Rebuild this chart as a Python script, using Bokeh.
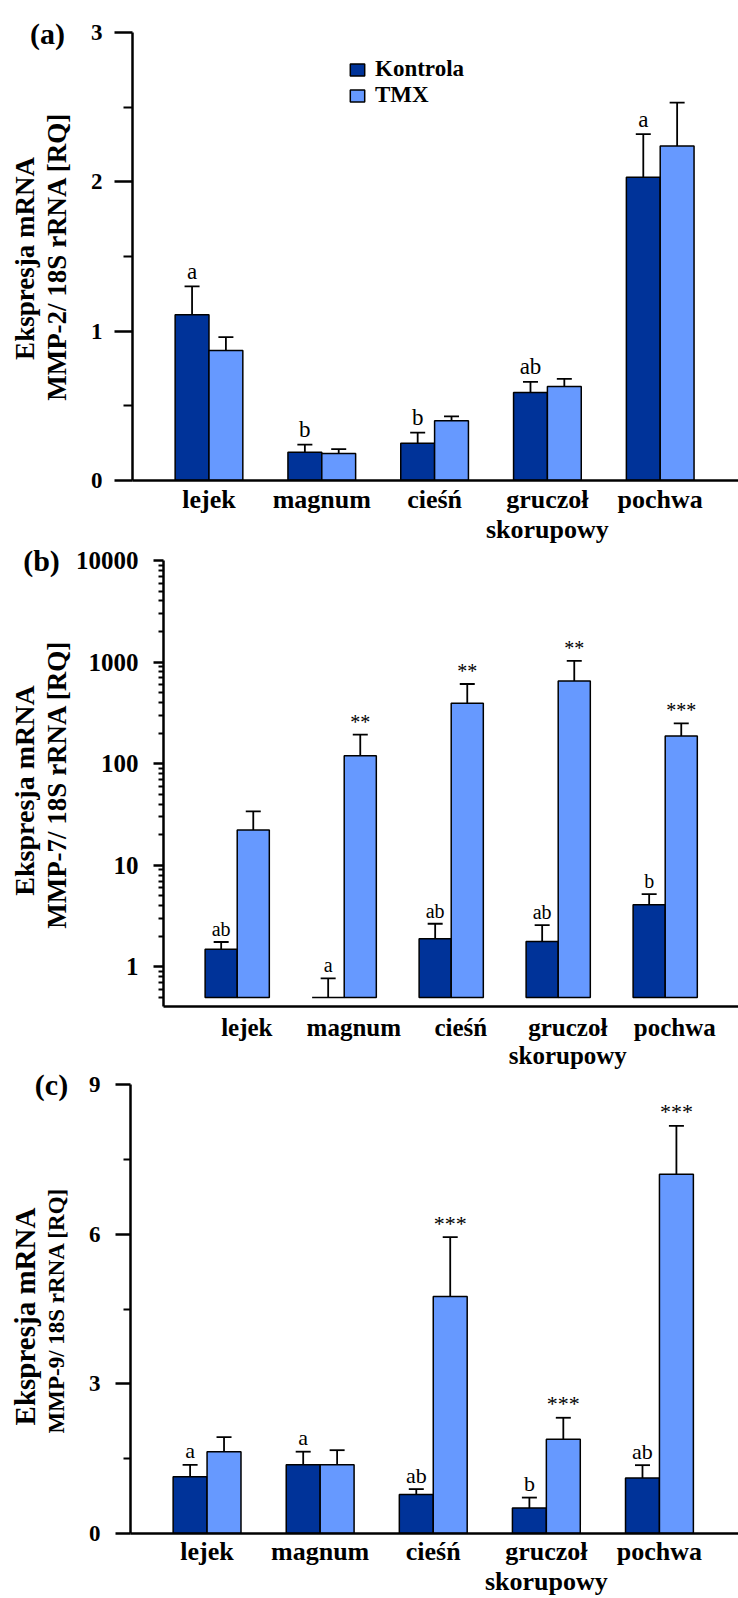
import math
from bokeh.plotting import figure
from bokeh.models import (Range1d, FixedTicker, LinearAxis, Whisker, TeeHead,
                          ColumnDataSource, Label, Legend, LegendItem, BasicTickFormatter)
from bokeh.embed import file_html
from bokeh.resources import INLINE
from bokeh.core.properties import value

# ---------------- data ----------------
categories = ["lejek", "magnum", "cieśń", "gruczoł\nskorupowy", "pochwa"]
series_names = ["Kontrola", "TMX"]
colors = ["#003399", "#6699FF"]

# (a) MMP-2
mmp2_kontrola = [1.11, 0.19, 0.25, 0.59, 2.03]
mmp2_kontrola_se = [0.19, 0.05, 0.07, 0.07, 0.29]
mmp2_tmx = [0.87, 0.18, 0.40, 0.63, 2.24]
mmp2_tmx_se = [0.09, 0.03, 0.03, 0.05, 0.29]
mmp2_kontrola_sig = ["a", "b", "b", "ab", "a"]
mmp2_tmx_sig = ["", "", "", "", ""]

# (b) MMP-7 (log scale)
mmp7_kontrola = [1.49, 0.5, 1.89, 1.78, 4.1]
mmp7_kontrola_se = [0.27, 0.27, 0.77, 0.80, 1.1]
mmp7_tmx = [22.3, 120, 394, 652, 187]
mmp7_tmx_se = [11.7, 73, 215, 378, 62]
mmp7_kontrola_sig = ["ab", "a", "ab", "ab", "b"]
mmp7_tmx_sig = ["", "**", "**", "**", "***"]

# (c) MMP-9
mmp9_kontrola = [1.14, 1.38, 0.78, 0.51, 1.11]
mmp9_kontrola_se = [0.235, 0.26, 0.11, 0.21, 0.26]
mmp9_tmx = [1.64, 1.38, 4.75, 1.89, 7.20]
mmp9_tmx_se = [0.29, 0.29, 1.19, 0.43, 0.97]
mmp9_kontrola_sig = ["a", "a", "ab", "b", "ab"]
mmp9_tmx_sig = ["", "", "***", "***", "***"]

y_title_1 = "Ekspresja mRNA"
y_title_2 = ["MMP-2/ 18S rRNA [RQ]", "MMP-7/ 18S rRNA [RQ]", "MMP-9/ 18S rRNA [RQ]"]
panel_tags = ["(a)", "(b)", "(c)"]

FONT = "Liberation Serif"
BAR_W = 0.3
W = 738
PAGE_H = 1598


def make_panel(cfg):
    n = len(categories)
    xs = [i + 1 for i in range(n)]
    log = cfg["log"]
    p = figure(width=W, height=cfg["height"], output_backend="svg", toolbar_location=None,
               x_range=Range1d(cfg["x0"], cfg["x1"]), y_range=Range1d(cfg["y0"], cfg["y1"]),
               y_axis_type="log" if log else "linear",
               x_axis_location=None,
               min_border_left=cfg["left"], min_border_right=0,
               min_border_top=cfg["top"], min_border_bottom=cfg["bottom"])
    p.outline_line_color = None
    p.xgrid.visible = False
    p.ygrid.visible = False
    p.background_fill_color = "white"
    p.border_fill_color = "white"

    base = cfg["base"]
    renderers = []
    for k, (vals, se, sig) in enumerate(cfg["series"]):
        off = -BAR_W / 2 if k == 0 else BAR_W / 2
        src = ColumnDataSource(dict(
            x=[x + off for x in xs],
            top=vals,
            bottom=[base] * n,
            up=[v + s for v, s in zip(vals, se)],
            sig=sig,
        ))
        r = p.vbar(x="x", top="top", bottom="bottom", width=BAR_W, source=src,
                   fill_color=colors[k], line_color="black", line_width=1.5)
        renderers.append(r)
        w = Whisker(base="x", lower="top", upper="up", source=src, dimension="height",
                    line_color="black", line_width=1.8,
                    upper_head=TeeHead(size=15, line_color="black", line_width=1.8),
                    lower_head=None)
        p.add_layout(w)
        p.text(x="x", y="up", text="sig", source=src, text_align="center",
               text_baseline="alphabetic", y_offset=cfg["sig_off"],
               text_font=value(FONT), text_font_size=cfg["sig_size"], text_color="black")

    # y axis
    ya = p.yaxis[0]
    ya.ticker = FixedTicker(ticks=cfg["yticks"], minor_ticks=cfg["yminor"])
    if log:
        ya.formatter = BasicTickFormatter(use_scientific=False)
    ya.axis_line_width = 2.5
    ya.major_tick_line_width = 2.5
    ya.minor_tick_line_width = 2
    ya.major_tick_out = cfg["tick_out"]
    ya.major_tick_in = 0
    ya.minor_tick_out = cfg["minor_out"]
    ya.minor_tick_in = 0
    ya.major_label_standoff = cfg["standoff"]
    ya.major_label_text_font = FONT
    ya.major_label_text_font_style = "bold"
    ya.major_label_text_font_size = cfg["ytick_size"]
    ya.major_label_text_color = "black"

    # x axis (category labels), optionally shifted
    shift = cfg["label_shift"]
    p.extra_x_ranges = {"lab": Range1d(cfg["x0"] - shift, cfg["x1"] - shift)}
    xa = LinearAxis(x_range_name="lab",
                    ticker=FixedTicker(ticks=xs, minor_ticks=[]),
                    major_label_overrides={x: c for x, c in zip(xs, categories)})
    xa.axis_line_width = 2.5
    xa.major_tick_out = 0
    xa.major_tick_in = 0
    xa.minor_tick_out = 0
    xa.minor_tick_in = 0
    xa.major_label_standoff = cfg["xstandoff"]
    xa.major_label_text_font = FONT
    xa.major_label_text_font_style = "bold"
    xa.major_label_text_font_size = cfg["xtick_size"]
    xa.major_label_text_color = "black"
    xa.major_label_text_line_height = 1.05
    p.add_layout(xa, "below")
    return p, renderers


# page layout: fig a 0-546, fig b 546-1071, fig c 1071-1598
pa, ra = make_panel(dict(
    log=False, height=546, top=32, bottom=65, left=132, x0=0.322, x1=5.694,
    y0=0, y1=3, base=0,
    series=[(mmp2_kontrola, mmp2_kontrola_se, mmp2_kontrola_sig),
            (mmp2_tmx, mmp2_tmx_se, mmp2_tmx_sig)],
    yticks=[0, 1, 2, 3], yminor=[0.5, 1.5, 2.5], tick_out=18, minor_out=9, standoff=12,
    ytick_size="23px", xtick_size="26px", xstandoff=4, sig_size="23px", sig_off=-15,
    label_shift=0.0))

legend = Legend(items=[LegendItem(label=series_names[0], renderers=[ra[0]]),
                       LegendItem(label=series_names[1], renderers=[ra[1]])],
                location=(216, 372), orientation="vertical",
                background_fill_alpha=0, border_line_alpha=0, padding=0, margin=0,
                spacing=0, glyph_width=18, glyph_height=15, label_standoff=9,
                label_text_font=FONT, label_text_font_style="bold",
                label_text_font_size="23px", label_text_color="black")
pa.add_layout(legend)

log_minor = [m * 10 ** e for e in range(-1, 4) for m in range(2, 10) if m * 10 ** e >= 0.4]
pb, rb = make_panel(dict(
    log=True, height=525, top=14, bottom=63, left=163, x0=0.311, x1=5.685,
    y0=0.408, y1=10000, base=0.5,
    series=[(mmp7_kontrola, mmp7_kontrola_se, mmp7_kontrola_sig),
            (mmp7_tmx, mmp7_tmx_se, mmp7_tmx_sig)],
    yticks=[1, 10, 100, 1000, 10000], yminor=log_minor, tick_out=10, minor_out=5, standoff=15,
    ytick_size="25px", xtick_size="25px", xstandoff=7, sig_size="20px", sig_off=-13,
    label_shift=0.09))

pc, rc = make_panel(dict(
    log=False, height=527, top=13, bottom=63, left=130, x0=0.323, x1=5.699,
    y0=0, y1=9, base=0,
    series=[(mmp9_kontrola, mmp9_kontrola_se, mmp9_kontrola_sig),
            (mmp9_tmx, mmp9_tmx_se, mmp9_tmx_sig)],
    yticks=[0, 3, 6, 9], yminor=[1.5, 4.5, 7.5], tick_out=15, minor_out=7, standoff=15,
    ytick_size="23px", xtick_size="26px", xstandoff=3, sig_size="22px", sig_off=-14,
    label_shift=0.0))

# transparent overlay holding the y titles and panel tags at page-pixel positions
ov = figure(width=W, height=PAGE_H, output_backend="svg", toolbar_location=None,
            x_range=Range1d(0, W), y_range=Range1d(0, PAGE_H),
            x_axis_location=None, y_axis_location=None, min_border=0,
            styles={"position": "absolute", "top": "0px", "left": "0px",
                    "pointer-events": "none"})
ov.outline_line_color = None
ov.xgrid.visible = False
ov.ygrid.visible = False
ov.background_fill_color = None
ov.border_fill_color = None

title_pos = [  # (x1, y1, size1), (x2, y2, size2), tag (x, y)
    ((24, 258, "27px"), (56, 256, "27px"), (47, 33)),
    ((24, 790, "28px"), (56, 784, "27px"), (41, 560)),
    ((24, 1316, "29px"), (56, 1310, "23px"), (51, 1084)),
]
for i, ((ax, ay, asz), (bx, by, bsz), (tx, ty)) in enumerate(title_pos):
    for (lx, ly, sz, txt) in [(ax, ay, asz, y_title_1), (bx, by, bsz, y_title_2[i])]:
        ov.add_layout(Label(x=lx, y=PAGE_H - ly, text=txt, angle=math.pi / 2,
                            text_align="center", text_baseline="middle",
                            text_font=FONT, text_font_style="bold", text_font_size=sz,
                            text_color="black"))
    ov.add_layout(Label(x=tx, y=PAGE_H - ty, text=panel_tags[i],
                        text_align="center", text_baseline="middle",
                        text_font=FONT, text_font_style="bold", text_font_size="30px",
                        text_color="black"))

open("out.html", "w").write(file_html([pa, pb, pc, ov], INLINE))
